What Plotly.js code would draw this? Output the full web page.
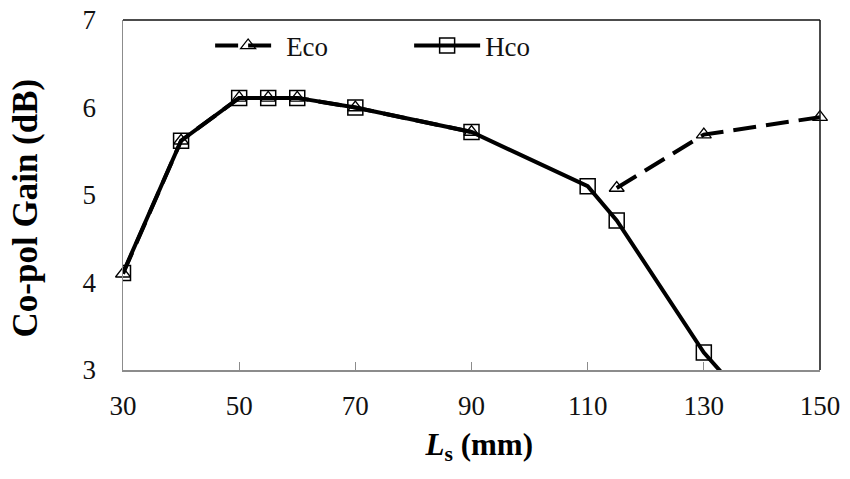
<!DOCTYPE html>
<html>
<head>
<meta charset="utf-8">
<script src="https://cdn.plot.ly/plotly-3.0.1.min.js"></script>
<style>html,body{margin:0;padding:0;background:#fff;}#chart{width:850px;height:479px;}</style>
</head>
<body>
<div id="chart"></div>
<script>
const lengthsMm = [30, 40, 50, 55, 60, 70, 90, 110, 115, 130, 150];
const ecoGain = [4.1, 5.62, 6.11, 6.11, 6.11, 6.0, 5.72, null, 5.08, 5.69, 5.89];
const hcoGain = [4.11, 5.62, 6.11, 6.11, 6.11, 6.0, 5.72, 5.1, 4.71, 3.2, 1.7];
const xTicks = [30, 50, 70, 90, 110, 130, 150];
const yTicks = [3, 4, 5, 6, 7];
const seriesNames = ['Eco', 'Hco'];

const serif = 'Liberation Serif, Times New Roman, serif';

const traces = [
  {
    x: lengthsMm, y: ecoGain, name: seriesNames[0], type: 'scatter', mode: 'lines+markers',
    cliponaxis: false, connectgaps: false,
    line: {color: '#000', width: 4, dash: '23px,10px'},
    marker: {symbol: 'triangle-up-open', size: 13, color: '#000', line: {width: 1.3, color: '#000'}}
  },
  {
    x: lengthsMm, y: hcoGain, name: seriesNames[1], type: 'scatter', mode: 'lines+markers',
    line: {color: '#000', width: 4},
    marker: {symbol: 'square-open', size: 15, color: '#000', line: {width: 1.5, color: '#000'}}
  }
];

const layout = {
  width: 850, height: 479,
  margin: {l: 123, r: 30, t: 20, b: 109},
  paper_bgcolor: '#fff', plot_bgcolor: '#fff',
  font: {family: serif, color: '#111'},
  showlegend: true,
  legend: {
    orientation: 'h', x: 0.125, y: 0.926, xanchor: 'left', yanchor: 'middle',
    font: {family: serif, size: 27, color: '#111'},
    itemwidth: 66, entrywidth: 118, bgcolor: 'rgba(0,0,0,0)', traceorder: 'normal'
  },
  xaxis: {
    range: [30, 150], tickvals: xTicks, ticktext: xTicks.map(String),
    showgrid: false, zeroline: false,
    showline: true, linecolor: '#8c8c8c', linewidth: 1.5,
    ticks: 'inside', ticklen: 8, tickcolor: '#8c8c8c', tickwidth: 1.3,
    tickfont: {family: serif, size: 27, color: '#111'},
    ticklabelstandoff: 11,
    title: {text: '<b>\u00a0\u00a0<i>L</i><sub>s</sub> (mm)</b>', font: {family: serif, size: 31, color: '#000'}, standoff: 13}
  },
  yaxis: {
    range: [3, 7], tickvals: yTicks, ticktext: yTicks.map(String),
    showgrid: false, zeroline: false,
    showline: true, linecolor: '#8c8c8c', linewidth: 1.5,
    ticks: '',
    tickfont: {family: serif, size: 27, color: '#111'},
    ticklabelstandoff: 20,
    title: {text: '<b>Co-pol Gain (dB)\u00a0\u00a0\u00a0</b>', font: {family: serif, size: 35, color: '#000'}, standoff: 34}
  },
  shapes: [
    {type: 'line', xref: 'paper', yref: 'paper', x0: 0, x1: 1, y0: 1, y1: 1, line: {color: '#111', width: 1.5}},
    {type: 'line', xref: 'paper', yref: 'paper', x0: 1, x1: 1, y0: 0, y1: 1, line: {color: '#111', width: 1.5}}
  ]
};

Plotly.newPlot('chart', traces, layout, {displayModeBar: false, staticPlot: true});
</script>
</body>
</html>
